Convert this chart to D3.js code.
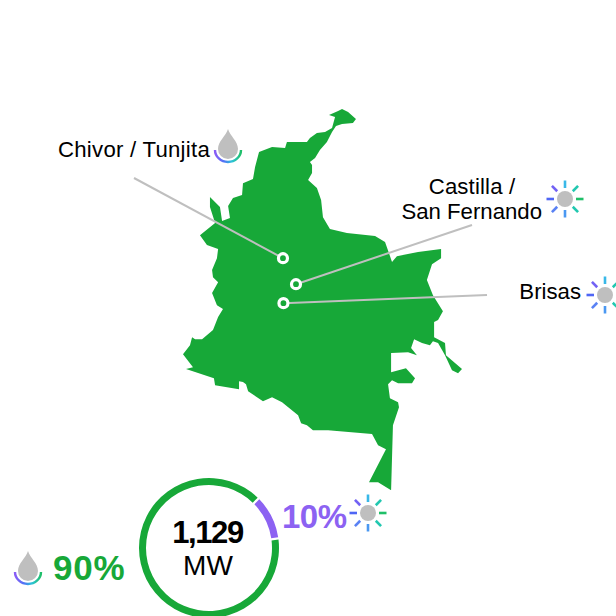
<!DOCTYPE html>
<html>
<head>
<meta charset="utf-8">
<style>
  html, body { margin: 0; padding: 0; background: #fff; }
  svg { display: block; }
  text { font-family: "Liberation Sans", Arial, sans-serif; fill: #000; }
</style>
<script src="https://cdn.jsdelivr.net/npm/d3@7"></script>
</head>
<body>
<script>
// country outline, [lon, lat], clockwise from the Caribbean coast
const borderPoints = [
  [-73.67, 11.05], [-73.54, 11.23], [-73.24, 11.45], [-72.89, 11.49], [-72.59, 11.67],
  [-72.46, 12.15], [-72.72, 12.24], [-72.33, 12.41], [-72.16, 12.5], [-71.9, 12.37],
  [-71.56, 12.06], [-71.69, 11.89], [-72.16, 11.84], [-72.42, 11.75], [-72.59, 11.49],
  [-72.81, 11.05], [-73.11, 10.7], [-73.32, 10.35], [-73.54, 10.18], [-73.45, 10.04],
  [-73.45, 9.69], [-73.62, 9.39], [-73.24, 9.04], [-73.06, 8.51], [-72.98, 7.76],
  [-72.68, 7.24], [-71.95, 7.06], [-70.74, 6.93], [-70.31, 6.67], [-70.14, 6.18],
  [-70.01, 5.79], [-69.8, 6.05], [-68.89, 6.23], [-67.9, 6.36], [-67.9, 5.96],
  [-68.29, 5.7], [-68.51, 5.0], [-68.25, 4.34], [-67.82, 3.64], [-68.03, 3.25],
  [-68.2, 3.16], [-68.2, 2.5], [-67.73, 2.24], [-67.69, 1.71], [-67.0, 1.1],
  [-67.17, 0.92], [-67.43, 1.05], [-67.73, 1.71], [-68.03, 2.24], [-68.25, 2.32],
  [-68.38, 2.15], [-68.72, 2.24], [-69.06, 2.41], [-69.19, 2.02], [-68.94, 1.71],
  [-69.32, 1.84], [-70.05, 1.8], [-70.05, 0.96], [-69.41, 1.14], [-69.02, 0.7],
  [-69.15, 0.48], [-69.75, 0.48], [-70.01, 0.61], [-70.18, 0.44], [-70.1, -0.18],
  [-69.75, -0.35], [-69.71, -0.57], [-69.97, -1.36], [-70.05, -4.21], [-70.61, -3.86],
  [-71.0, -3.86], [-70.27, -2.41], [-70.61, -2.24], [-70.87, -1.75], [-72.76, -1.58],
  [-73.41, -1.58], [-73.67, -1.36], [-73.92, -1.27], [-74.05, -0.92], [-74.74, -0.35],
  [-75.17, -0.13], [-75.56, -0.31], [-76.2, 0.13], [-76.29, 0.44], [-76.42, 0.53],
  [-76.59, 0.57], [-76.59, 0.22], [-77.62, 0.39], [-77.67, 0.7], [-78.87, 1.1],
  [-78.57, 1.18], [-79.0, 1.75], [-78.7, 2.15], [-78.61, 2.5], [-78.48, 2.41],
  [-78.18, 2.41], [-77.71, 2.81], [-77.49, 3.38], [-77.28, 3.73], [-77.54, 3.9],
  [-77.75, 4.43], [-77.49, 4.91], [-77.71, 5.13], [-77.75, 5.44], [-77.54, 5.96],
  [-77.49, 6.36], [-77.97, 6.54], [-78.27, 6.97], [-77.62, 7.5], [-77.84, 8.2],
  [-77.84, 8.64], [-77.41, 8.2], [-77.32, 7.59], [-76.98, 7.72], [-77.06, 8.25],
  [-76.85, 8.6], [-76.46, 8.73], [-76.42, 9.25], [-75.99, 9.43], [-75.9, 9.96],
  [-75.73, 10.61], [-75.17, 10.83], [-74.61, 10.79], [-74.53, 11.05]
];

// plant sites
const siteNames = ["Chivor / Tunjita", "Castilla / San Fernando", "Brisas"];
const siteLon = [-74.7, -74.14, -74.68];
const siteLat = [5.96, 4.82, 3.99];

// capacity split
const shareNames = ["Solar", "Hydro"];
const shareValues = [10, 90];
const totalLabel = "1,129";
const unitLabel = "MW";

const width = 616, height = 616;
const green = "#17a838", purple = "#8c62f2", grey = "#bfbfbf";

// map scales
const xScale = d3.scaleLinear().domain([-79, -67]).range([183, 462]);
const yScale = d3.scaleLinear().domain([12.5, -4.2]).range([109, 490]);

const svg = d3.select("body").append("svg").attr("width", width).attr("height", height);
const defs = svg.append("defs");

// gradient under the water drop
const grad = defs.append("linearGradient").attr("id", "dropArc");
[["0%", "#8a5cf5"], ["35%", "#4f74f5"], ["65%", "#2cc4d8"], ["100%", "#1fbf68"]].forEach((s) => {
  grad.append("stop").attr("offset", s[0]).attr("stop-color", s[1]);
});

// Draw map
const line = d3.line().x((d) => xScale(d[0])).y((d) => yScale(d[1])).curve(d3.curveLinearClosed);
svg.append("path").attr("d", line(borderPoints)).attr("fill", green);

// leader lines, far end is where the label sits
const leaderEnds = [[134, 178], [472, 225], [487, 295]];
siteNames.forEach((name, i) => {
  svg.append("line")
    .attr("x1", leaderEnds[i][0])
    .attr("y1", leaderEnds[i][1])
    .attr("x2", xScale(siteLon[i]))
    .attr("y2", yScale(siteLat[i]))
    .attr("stroke", grey)
    .attr("stroke-width", 2);
});

svg.selectAll(".site")
  .data(siteNames)
  .enter()
  .append("circle")
  .attr("class", "site")
  .attr("cx", (d, i) => xScale(siteLon[i]))
  .attr("cy", (d, i) => yScale(siteLat[i]))
  .attr("r", 4.5)
  .attr("fill", green)
  .attr("stroke", "#fff")
  .attr("stroke-width", 3.2);

function addText(x, y, str, size, opts) {
  opts = opts || {};
  return svg.append("text")
    .attr("x", x)
    .attr("y", y)
    .attr("text-anchor", opts.anchor || "start")
    .attr("font-size", size)
    .attr("font-weight", opts.weight || "normal")
    .attr("letter-spacing", opts.spacing || 0)
    .style("fill", opts.fill || "#000")
    .text(str);
}

// site labels
addText(58, 157, "Chivor / Tunjita", 22.2, { spacing: 0.25 });
addText(472, 194, "Castilla /", 22.2, { anchor: "middle", spacing: 0.15 });
addText(542, 219, "San Fernando", 22.2, { anchor: "end" });
addText(581, 299, "Brisas", 22.2, { anchor: "end" });

// water drop icon, cx is the middle and top the tip of the drop
function drawDrop(cx, top) {
  const g = svg.append("g").attr("transform", "translate(" + cx + "," + top + ")");
  g.append("path")
    .attr("d", "M0,0 C2,7 10,12 10,20 A10,10 0 0 1 -10,20 C-10,12 -2,7 0,0 Z")
    .attr("fill", grey);
  g.append("path")
    .attr("d", "M-13,21 A13,12 0 0 0 13,21")
    .attr("fill", "none")
    .attr("stroke", "url(#dropArc)")
    .attr("stroke-width", 2.4);
}

// sun icon with eight coloured rays
const rayColors = ["#38b8e8", "#22c8b0", "#1fbf68", "#22c8b0", "#4a98f2", "#5a82f4", "#4f66f5", "#7262f4"];
function drawSun(cx, cy) {
  const g = svg.append("g").attr("transform", "translate(" + cx + "," + cy + ")");
  rayColors.forEach((c, i) => {
    const a = (i * Math.PI) / 4;
    g.append("line")
      .attr("x1", Math.sin(a) * 11)
      .attr("y1", -Math.cos(a) * 11)
      .attr("x2", Math.sin(a) * 18.5)
      .attr("y2", -Math.cos(a) * 18.5)
      .attr("stroke", c)
      .attr("stroke-width", 2.6);
  });
  g.append("circle").attr("r", 8).attr("fill", grey);
}

drawDrop(228, 129);
drawSun(565, 199);
drawSun(605, 295);
drawDrop(28, 551);
drawSun(368, 513);

// Donut
const pie = d3.pie().sort(null).startAngle(Math.PI / 4).endAngle(Math.PI / 4 + 2 * Math.PI).padAngle(0.025);
const arc = d3.arc().innerRadius(63).outerRadius(70);
const colors = d3.scaleOrdinal().domain(shareNames).range([purple, green]);
const donut = svg.append("g").attr("transform", "translate(209,548)");
donut.selectAll("path")
  .data(pie(shareValues))
  .enter()
  .append("path")
  .attr("d", arc)
  .attr("fill", (d, i) => colors(shareNames[i]));

addText(207.5, 543, totalLabel, 31, { anchor: "middle", weight: "bold", spacing: -1.4 });
addText(208, 575, unitLabel, 28, { anchor: "middle" });
addText(53, 580, shareValues[1] + "%", 35, { weight: "bold", fill: green, spacing: 0.8 });
addText(282, 527.5, shareValues[0] + "%", 33, { weight: "bold", fill: purple, spacing: -0.5 });
</script>
</body>
</html>
